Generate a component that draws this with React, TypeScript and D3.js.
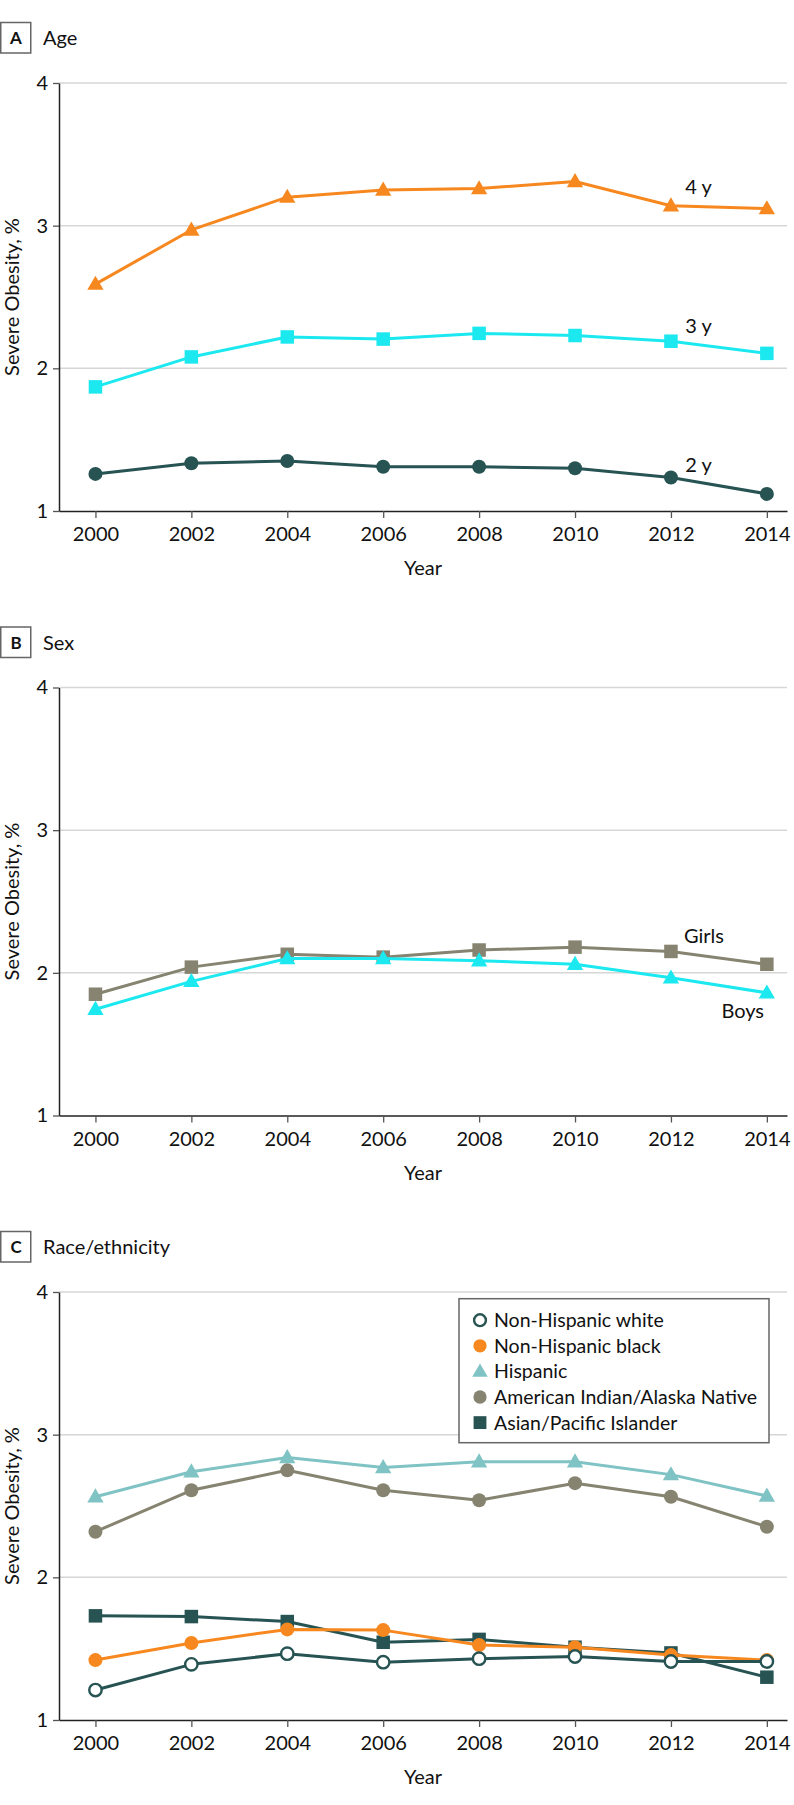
// Severe obesity trends by age, sex and race/ethnicity (3 stacked panels)
import React, { useEffect, useRef } from 'react';
import * as d3 from 'd3';

const years = [2000, 2002, 2004, 2006, 2008, 2010, 2012, 2014];
const yTicks = [1, 2, 3, 4];

// Panel A - age
const age4 = [2.59, 2.97, 3.2, 3.25, 3.26, 3.31, 3.14, 3.12];
const age3 = [1.87, 2.08, 2.22, 2.205, 2.245, 2.23, 2.19, 2.105];
const age2 = [1.26, 1.335, 1.35, 1.31, 1.31, 1.3, 1.235, 1.12];

// Panel B - sex
const girls = [1.85, 2.04, 2.13, 2.11, 2.16, 2.18, 2.15, 2.06];
const boys = [1.745, 1.94, 2.1, 2.1, 2.085, 2.06, 1.965, 1.86];

// Panel C - race/ethnicity
const white = [1.21, 1.39, 1.465, 1.405, 1.43, 1.445, 1.41, 1.41];
const black = [1.42, 1.54, 1.635, 1.63, 1.525, 1.51, 1.455, 1.42];
const hispanic = [2.565, 2.74, 2.84, 2.77, 2.81, 2.81, 2.72, 2.57];
const aian = [2.32, 2.61, 2.75, 2.61, 2.54, 2.66, 2.565, 2.355];
const asian = [1.73, 1.725, 1.69, 1.545, 1.565, 1.51, 1.47, 1.3];

const ORANGE = '#f7881f';
const CYAN = '#1ce8f0';
const DARK_TEAL = '#275353';
const OLIVE = '#868470';
const LIGHT_TEAL = '#80c3c5';
const FONT = "Lato, 'Open Sans', sans-serif";

type Marker = 'circle' | 'open' | 'square' | 'triangle';

interface Series {
  name: string;
  values: number[];
  color: string;
  marker: Marker;
}

interface Label {
  text: string;
  year: number;
  value: number;
  anchor: string;
}

interface Panel {
  letter: string;
  title: string;
  series: Series[];
  labels: Label[];
  legend: boolean;
}

const panels: Panel[] = [
  {
    letter: 'A',
    title: 'Age',
    series: [
      { name: '2 y', values: age2, color: DARK_TEAL, marker: 'circle' },
      { name: '3 y', values: age3, color: CYAN, marker: 'square' },
      { name: '4 y', values: age4, color: ORANGE, marker: 'triangle' },
    ],
    labels: [
      { text: '4 y', year: 2012.3, value: 3.22, anchor: 'start' },
      { text: '3 y', year: 2012.3, value: 2.25, anchor: 'start' },
      { text: '2 y', year: 2012.3, value: 1.275, anchor: 'start' },
    ],
    legend: false,
  },
  {
    letter: 'B',
    title: 'Sex',
    series: [
      { name: 'Girls', values: girls, color: OLIVE, marker: 'square' },
      { name: 'Boys', values: boys, color: CYAN, marker: 'triangle' },
    ],
    labels: [
      { text: 'Girls', year: 2012.27, value: 2.21, anchor: 'start' },
      { text: 'Boys', year: 2013.94, value: 1.68, anchor: 'end' },
    ],
    legend: false,
  },
  {
    letter: 'C',
    title: 'Race/ethnicity',
    series: [
      { name: 'Asian/Pacific Islander', values: asian, color: DARK_TEAL, marker: 'square' },
      { name: 'American Indian/Alaska Native', values: aian, color: OLIVE, marker: 'circle' },
      { name: 'Hispanic', values: hispanic, color: LIGHT_TEAL, marker: 'triangle' },
      { name: 'Non-Hispanic black', values: black, color: ORANGE, marker: 'circle' },
      { name: 'Non-Hispanic white', values: white, color: DARK_TEAL, marker: 'open' },
    ],
    labels: [],
    legend: true,
  },
];

const legendOrder = [
  'Non-Hispanic white',
  'Non-Hispanic black',
  'Hispanic',
  'American Indian/Alaska Native',
  'Asian/Pacific Islander',
];

function drawMarker(
  sel: d3.Selection<SVGGElement, unknown, null, undefined>,
  marker: Marker,
  color: string,
  cx: number,
  cy: number,
  scale = 1
) {
  if (marker === 'circle') {
    sel.append('circle').attr('cx', cx).attr('cy', cy).attr('r', 7 * scale).attr('fill', color);
  } else if (marker === 'open') {
    sel.append('circle')
      .attr('cx', cx).attr('cy', cy).attr('r', 6.2 * scale)
      .attr('fill', '#fff').attr('stroke', color).attr('stroke-width', 2.4);
  } else if (marker === 'square') {
    const s = 13.5 * scale;
    sel.append('rect')
      .attr('x', cx - s / 2).attr('y', cy - s / 2)
      .attr('width', s).attr('height', s)
      .attr('fill', color);
  } else {
    const tri = d3.symbol().type(d3.symbolTriangle).size(115 * scale * scale);
    sel.append('path')
      .attr('transform', `translate(${cx},${cy + 1})`)
      .attr('d', tri() as string)
      .attr('fill', color);
  }
}

const SevereObesityChart: React.FC = () => {
  const svgRef = useRef<SVGSVGElement>(null);

  useEffect(() => {
    if (!svgRef.current) return;
    const svg = d3.select(svgRef.current);
    svg.selectAll('*').remove();

    const width = 794;
    const height = 1805;
    svg.attr('width', width).attr('height', height);

    const plotLeft = 59;
    const plotRight = 787;
    const plotHeight = 428;
    const panelStep = 604.5;
    const firstTop = 83;

    const x = d3.scaleLinear()
      .domain([1999.24, 2014.42])
      .range([plotLeft, plotRight]);

    panels.forEach((panel, i) => {
      const top = firstTop + i * panelStep;
      const g = svg.append('g').attr('transform', `translate(0,${top})`);

      const y = d3.scaleLinear().domain([1, 4]).range([plotHeight, 0]);

      // Panel letter box + title
      g.append('rect')
        .attr('x', 0.75).attr('y', -60.5)
        .attr('width', 30).attr('height', 30.5)
        .attr('fill', '#fff').attr('stroke', '#666').attr('stroke-width', 1.5);
      g.append('text')
        .attr('x', 16).attr('y', -39)
        .attr('text-anchor', 'middle')
        .style('font-family', FONT).style('font-size', '17px').style('font-weight', 'bold')
        .style('fill', '#111')
        .text(panel.letter);
      g.append('text')
        .attr('x', 43).attr('y', -38)
        .style('font-family', FONT).style('font-size', '20px')
        .style('fill', '#111')
        .text(panel.title);

      // Gridlines
      g.selectAll('.grid')
        .data(yTicks.filter(t => t > 1))
        .enter()
        .append('line')
        .attr('x1', plotLeft).attr('x2', plotRight)
        .attr('y1', d => y(d)).attr('y2', d => y(d))
        .attr('stroke', '#d6d6d6').attr('stroke-width', 1.5);

      // Axes
      const yAxis = d3.axisLeft(y).tickValues(yTicks).tickFormat(d3.format('d'))
        .tickSize(6).tickSizeOuter(0).tickPadding(5);
      const yg = g.append('g').attr('transform', `translate(${plotLeft},0)`).call(yAxis);

      const xAxis = d3.axisBottom(x).tickValues(years).tickFormat(d3.format('d'))
        .tickSize(7).tickSizeOuter(0).tickPadding(9);
      const xg = g.append('g').attr('transform', `translate(0,${plotHeight})`).call(xAxis);

      [yg, xg].forEach(ax => {
        ax.select('.domain').attr('stroke', '#222').attr('stroke-width', 1.5);
        ax.selectAll('.tick line').attr('stroke', '#555').attr('stroke-width', 1.3);
        ax.selectAll('.tick text')
          .style('font-family', FONT).style('font-size', '20px').attr('fill', '#111');
      });

      g.append('text')
        .attr('x', (plotLeft + plotRight) / 2)
        .attr('y', plotHeight + 64)
        .attr('text-anchor', 'middle')
        .style('font-family', FONT).style('font-size', '20px').style('fill', '#111')
        .text('Year');

      g.append('text')
        .attr('transform', `translate(19,${plotHeight / 2}) rotate(-90)`)
        .attr('text-anchor', 'middle')
        .style('font-family', FONT).style('font-size', '20px').style('fill', '#111')
        .text('Severe Obesity, %');

      // Series lines and markers
      const line = d3.line<number>()
        .x((_, j) => x(years[j]))
        .y(d => y(d));

      panel.series.forEach(s => {
        const sg = g.append('g');
        sg.append('path')
          .datum(s.values)
          .attr('fill', 'none')
          .attr('stroke', s.color)
          .attr('stroke-width', 3)
          .attr('stroke-linejoin', 'round')
          .attr('d', line);
        s.values.forEach((v, j) => drawMarker(sg, s.marker, s.color, x(years[j]), y(v)));
      });

      // Direct labels
      panel.labels.forEach(l => {
        g.append('text')
          .attr('x', x(l.year)).attr('y', y(l.value))
          .attr('text-anchor', l.anchor)
          .style('font-family', FONT).style('font-size', '20px').style('fill', '#111')
          .text(l.text);
      });

      // Legend (panel C)
      if (panel.legend) {
        const lg = g.append('g').attr('transform', 'translate(459,6.7)');
        lg.append('rect')
          .attr('width', 310).attr('height', 144)
          .attr('fill', '#fff').attr('stroke', '#666').attr('stroke-width', 1.5);
        legendOrder.forEach((name, k) => {
          const s = panel.series.find(d => d.name === name)!;
          const cy = 21.5 + k * 25.6;
          drawMarker(lg, s.marker, s.color, 21, cy, 0.95);
          lg.append('text')
            .attr('x', 35).attr('y', cy + 7)
            .style('font-family', FONT).style('font-size', '19.5px').style('fill', '#111')
            .text(name);
        });
      }
    });
  }, []);

  return (
    <div style={{ position: 'absolute', left: 0, top: 0 }}>
      <svg ref={svgRef}></svg>
    </div>
  );
};

export default function App() {
  return <SevereObesityChart />;
}
